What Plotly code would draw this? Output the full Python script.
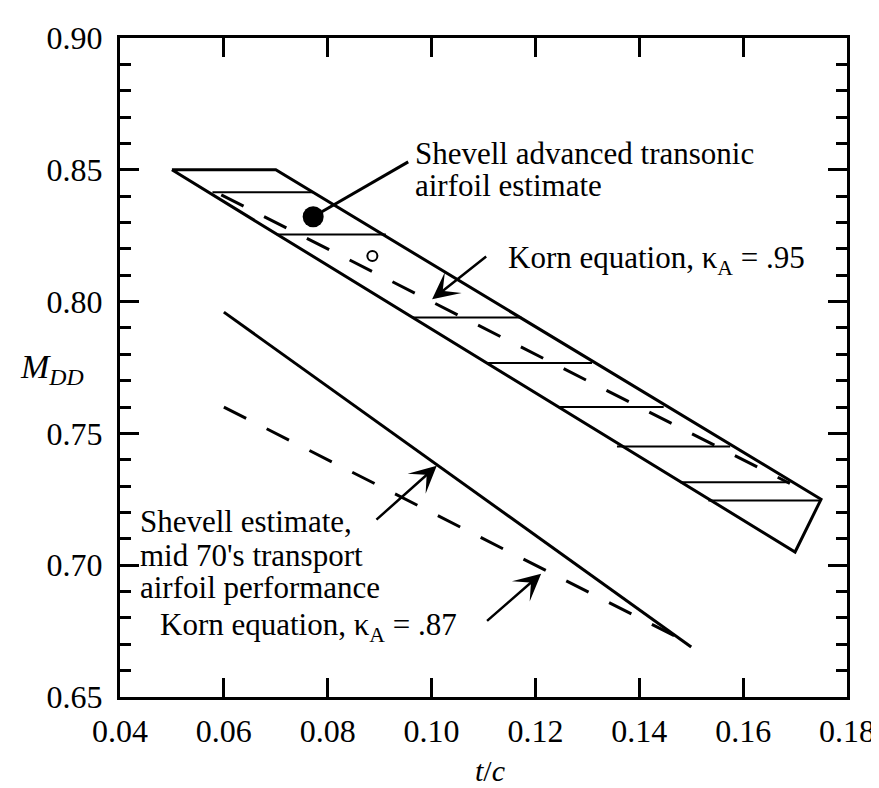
import plotly.graph_objects as go

# ---- data ----
band_x = [0.05, 0.07, 0.175, 0.17, 0.05]
band_y = [0.85, 0.85, 0.725, 0.705, 0.85]

hatch_y = [0.8415, 0.8255, 0.794, 0.7767, 0.760, 0.745, 0.7315, 0.7245]
hatch_x0 = [0.0578, 0.0702, 0.0964, 0.1106, 0.1246, 0.1357, 0.1479, 0.1533]
hatch_x1 = [0.0772, 0.0912, 0.1173, 0.1309, 0.1447, 0.1575, 0.1689, 0.1748]

korn95_x = [0.0595, 0.169]
korn95_y = [0.8405, 0.731]

korn87_x = [0.06, 0.15]
korn87_y = [0.76, 0.67]

shevell70_x = [0.06, 0.15]
shevell70_y = [0.796, 0.669]

adv_x = [0.0772]
adv_y = [0.8322]

open_x = [0.0886]
open_y = [0.8173]

x_ticks = [0.04, 0.06, 0.08, 0.10, 0.12, 0.14, 0.16, 0.18]
y_ticks = [0.65, 0.70, 0.75, 0.80, 0.85, 0.90]

FONT = "Liberation Serif, Times New Roman, serif"
BLACK = "#000000"

fig = go.Figure()

# hatched band outline
fig.add_trace(go.Scatter(x=band_x, y=band_y, mode="lines",
                         line=dict(color=BLACK, width=3), hoverinfo="skip"))
# hatch lines
hx, hy = [], []
for x0, x1, y in zip(hatch_x0, hatch_x1, hatch_y):
    hx += [x0, x1, None]
    hy += [y, y, None]
fig.add_trace(go.Scatter(x=hx, y=hy, mode="lines",
                         line=dict(color=BLACK, width=2), hoverinfo="skip"))
# Korn equation lines
fig.add_trace(go.Scatter(x=korn95_x, y=korn95_y, mode="lines",
                         line=dict(color=BLACK, width=3, dash="25px,23px")))
fig.add_trace(go.Scatter(x=korn87_x, y=korn87_y, mode="lines",
                         line=dict(color=BLACK, width=3, dash="25px,23px")))
# Shevell mid-70's line
fig.add_trace(go.Scatter(x=shevell70_x, y=shevell70_y, mode="lines",
                         line=dict(color=BLACK, width=3)))

# connector from filled point to label
fig.add_shape(type="line", xref="x", yref="y",
              x0=adv_x[0], y0=adv_y[0], x1=0.0955, y1=0.853,
              line=dict(color=BLACK, width=3))

fig.add_trace(go.Scatter(x=adv_x, y=adv_y, mode="markers",
                         marker=dict(color=BLACK, size=21, symbol="circle")))
fig.add_trace(go.Scatter(x=open_x, y=open_y, mode="markers",
                         marker=dict(color="white", size=10, symbol="circle",
                                     line=dict(color=BLACK, width=2))))

tf = dict(family=FONT, size=32, color=BLACK)

def label(x, y, text, size=31):
    fig.add_annotation(x=x, y=y, xref="x", yref="y", text=text, showarrow=False,
                       xanchor="left", yanchor="middle", borderpad=0,
                       font=dict(family=FONT, size=size, color=BLACK))

label(0.0967, 0.8560, "Shevell advanced transonic")
label(0.0967, 0.8440, "airfoil estimate")
label(0.1145, 0.8156, "Korn equation, κ<sub>A</sub> = .95")
label(0.0436, 0.7165, "Shevell estimate,")
label(0.0436, 0.7036, "mid 70's transport")
label(0.0436, 0.6917, "airfoil performance")
label(0.0476, 0.6764, "Korn equation, κ<sub>A</sub> = .87")

def arrow(xh, yh, xt, yt):
    fig.add_annotation(x=xh, y=yh, ax=xt, ay=yt, xref="x", yref="y",
                       axref="x", ayref="y", text=" ", showarrow=True,
                       arrowhead=3, arrowsize=1.8, arrowwidth=2.5,
                       arrowcolor=BLACK, standoff=0, startstandoff=0,
                       font=dict(size=2))

arrow(0.1001, 0.8009, 0.1109, 0.8177)
arrow(0.1010, 0.7377, 0.0890, 0.7166)
arrow(0.1211, 0.6968, 0.1103, 0.6782)

# axis titles
fig.add_annotation(x=-0.093, y=0.497, xref="paper", yref="paper",
                   text="<i>M</i><sub><i>DD</i></sub>", showarrow=False,
                   xanchor="center", yanchor="middle",
                   font=dict(family=FONT, size=34, color=BLACK))
fig.add_annotation(x=0.509, y=-0.112, xref="paper", yref="paper",
                   text="<i>t</i>/<i>c</i>", showarrow=False,
                   xanchor="center", yanchor="middle", borderpad=0,
                   font=dict(family=FONT, size=30, color=BLACK))

fig.update_layout(
    width=879, height=788,
    margin=dict(l=112, r=34, t=17, b=99),
    paper_bgcolor="white", plot_bgcolor="white",
    showlegend=False,
    font=tf,
)
fig.update_xaxes(range=[0.04, 0.18], tickvals=x_ticks, tickformat=".2f",
                 ticks="inside", ticklen=19, tickwidth=3, tickcolor=BLACK,
                 showline=True, linewidth=3, linecolor=BLACK, mirror="allticks",
                 showgrid=False, zeroline=False, tickfont=tf,
                 ticklabelstandoff=4, ticklabeloverflow="allow")
fig.update_yaxes(range=[0.65, 0.90], tickvals=y_ticks, tickformat=".2f",
                 ticks="inside", ticklen=19, tickwidth=3, tickcolor=BLACK,
                 showline=True, linewidth=3, linecolor=BLACK, mirror="allticks",
                 showgrid=False, zeroline=False, tickfont=tf,
                 minor=dict(dtick=0.01, ticks="inside", ticklen=11,
                            tickwidth=3, tickcolor=BLACK, showgrid=False),
                 ticklabelstandoff=8, ticklabeloverflow="allow")

fig.write_html("out.html")
